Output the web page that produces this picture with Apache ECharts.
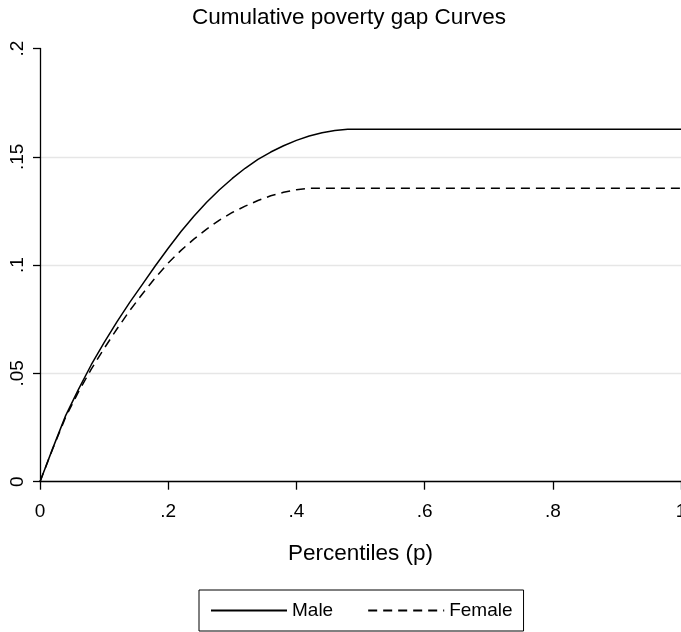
<!DOCTYPE html>
<html>
<head>
<meta charset="utf-8">
<script src="https://cdn.jsdelivr.net/npm/echarts@6/dist/echarts.min.js"></script>
<style>
html,body{margin:0;padding:0;background:#fff;}
#chart{width:681px;height:632px;}
</style>
</head>
<body>
<div id="chart"></div>
<script>
var titleText = 'Cumulative poverty gap Curves';
var xAxisName = 'Percentiles (p)';
var seriesNames = ['Male', 'Female'];
var xTickLabels = {'0': '0', '0.2': '.2', '0.4': '.4', '0.6': '.6', '0.8': '.8', '1': '1'};
var yTickLabels = {'0': '0', '0.05': '.05', '0.1': '.1', '0.15': '.15', '0.2': '.2'};

var maleP = [0, 0.02, 0.04, 0.06, 0.08, 0.10, 0.12, 0.14, 0.16, 0.18, 0.20, 0.22, 0.24, 0.26, 0.28, 0.30, 0.32, 0.34, 0.36, 0.38, 0.40, 0.42, 0.44, 0.46, 0.48, 1.0];
var maleV = [0, 0.0155, 0.0305, 0.0426, 0.0540, 0.0642, 0.0738, 0.0828, 0.0912, 0.0997, 0.1078, 0.1155, 0.1226, 0.1290, 0.1348, 0.1400, 0.1447, 0.1488, 0.1522, 0.1551, 0.1576, 0.1596, 0.1611, 0.1621, 0.1627, 0.1627];

var femaleP = [0, 0.02, 0.04, 0.06, 0.08, 0.10, 0.12, 0.14, 0.16, 0.18, 0.20, 0.22, 0.24, 0.26, 0.28, 0.30, 0.32, 0.34, 0.36, 0.38, 0.40, 0.42, 1.0];
var femaleV = [0, 0.0153, 0.0298, 0.0415, 0.0520, 0.0615, 0.0705, 0.0790, 0.0868, 0.0942, 0.1010, 0.1068, 0.1120, 0.1166, 0.1208, 0.1243, 0.1272, 0.1298, 0.1320, 0.1336, 0.1348, 0.1355, 0.1355];

function zip(a, b) { return a.map(function (v, i) { return [v, b[i]]; }); }
function fmt(map) { return function (v) { var k = String(+v.toFixed(4)); return map[k] !== undefined ? map[k] : ''; }; }

var FONT = 'Liberation Sans, Arial, sans-serif';
var chart = echarts.init(document.getElementById('chart'), null, {renderer: 'canvas'});
chart.setOption({
  animation: false,
  backgroundColor: '#fff',
  title: {
    text: titleText, left: 192, top: 6.5, padding: 0,
    textStyle: {fontFamily: FONT, fontSize: 22.5, fontWeight: 'normal', color: '#000'}
  },
  grid: {left: 40, right: 0, top: 48.5, bottom: 150.3, containLabel: false, outerBoundsMode: 'none'},
  xAxis: {
    type: 'value', min: 0, max: 1, interval: 0.2,
    name: xAxisName, nameLocation: 'middle', nameGap: 61,
    nameTextStyle: {fontFamily: FONT, fontSize: 22.5, color: '#000'},
    axisLine: {show: true, lineStyle: {color: '#000', width: 1.3}},
    axisTick: {show: true, length: 8, lineStyle: {color: '#000', width: 1.3}},
    axisLabel: {fontFamily: FONT, fontSize: 19, color: '#000', margin: 21, formatter: fmt(xTickLabels), showMaxLabel: true, hideOverlap: false},
    splitLine: {show: false}
  },
  yAxis: {
    type: 'value', min: 0, max: 0.2, interval: 0.05,
    axisLine: {show: true, lineStyle: {color: '#000', width: 1.3}},
    axisTick: {show: true, length: 7, lineStyle: {color: '#000', width: 1.3}},
    axisLabel: {fontFamily: FONT, fontSize: 19, color: '#000', margin: 13, rotate: 90, formatter: fmt(yTickLabels)},
    splitLine: {show: true, lineStyle: {color: ['#e6e6e6', '#e6e6e6', '#e6e6e6', '#e6e6e6', 'rgba(0,0,0,0)'], width: 1.3}}
  },
  legend: {
    left: 199, top: 590,
    padding: [11, 11, 11, 11],
    itemWidth: 76, itemHeight: 20, itemGap: 34,
    borderColor: '#000', borderWidth: 1, borderRadius: 0,
    itemStyle: {opacity: 0, color: 'rgba(0,0,0,0)', borderWidth: 0},
    textStyle: {fontFamily: FONT, fontSize: 19, color: '#000'},
    data: seriesNames
  },
  series: [
    {
      name: seriesNames[0], type: 'line', data: zip(maleP, maleV),
      showSymbol: false, symbol: 'none',
      lineStyle: {color: '#000', width: 1.5, type: 'solid'},
      itemStyle: {color: '#000'}
    },
    {
      name: seriesNames[1], type: 'line', data: zip(femaleP, femaleV),
      showSymbol: false, symbol: 'none',
      lineStyle: {color: '#000', width: 1.5, type: [9, 6]},
      itemStyle: {color: '#000'}
    }
  ]
});
</script>
</body>
</html>
